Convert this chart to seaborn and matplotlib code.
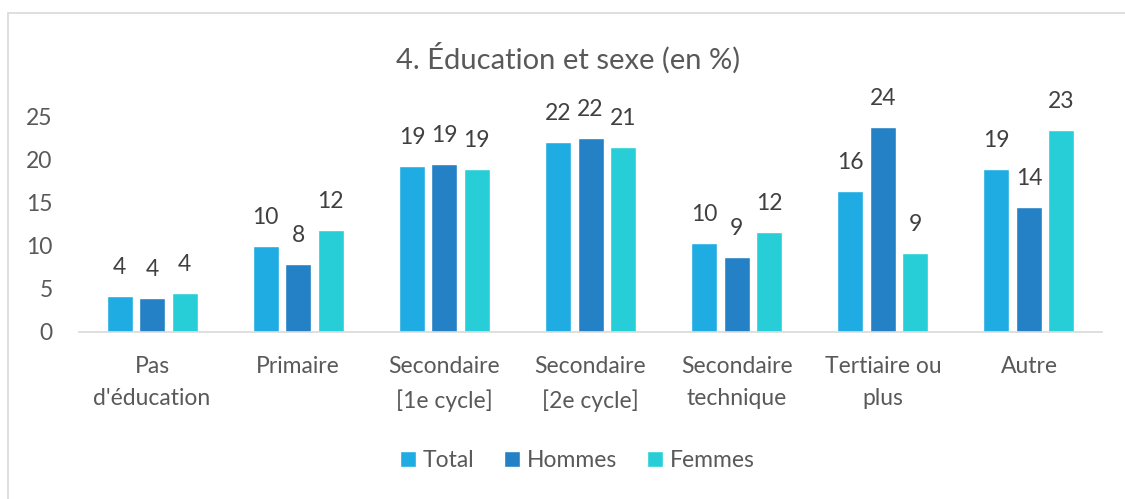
import matplotlib
matplotlib.use("Agg")
import matplotlib.pyplot as plt
import seaborn as sns
import pandas as pd
from matplotlib.patches import Rectangle

categories = ["Pas\nd'éducation", "Primaire", "Secondaire\n[1e cycle]", "Secondaire\n[2e cycle]",
              "Secondaire\ntechnique", "Tertiaire ou\nplus", "Autre"]
series = ["Total", "Hommes", "Femmes"]
total = [4.2, 9.9, 19.2, 22.0, 10.3, 16.3, 18.9]
hommes = [3.9, 7.9, 19.4, 22.5, 8.7, 23.7, 14.5]
femmes = [4.5, 11.8, 18.9, 21.4, 11.6, 9.1, 23.4]
yticks = [0, 5, 10, 15, 20, 25]
colors = ["#1FACE3", "#2581C6", "#27CED7"]

rows = []
for name, vals in zip(series, [total, hommes, femmes]):
    for c, v in zip(categories, vals):
        rows.append({"cat": c, "serie": name, "val": v})
df = pd.DataFrame(rows)

sns.set_theme(style="white")
plt.rcParams['font.family'] = ['Lato', 'DejaVu Sans']

FS = 16.5
fig = plt.figure(figsize=(11.25, 4.99), dpi=100)
ax = fig.add_axes([0.0702, 0.3347, 0.9094, 0.4328])
sns.barplot(data=df, x="cat", y="val", hue="serie", palette=colors, width=0.667, gap=0.2,
            ax=ax, saturation=1, legend=True)

for cont in ax.containers:
    ax.bar_label(cont, labels=[f"{v:.0f}" for v in cont.datavalues], padding=13,
                 fontsize=FS, color="#404040")

ax.set_ylim(0, 25)
ax.set_xlim(-0.5, len(categories) - 0.5)
ax.set_yticks(yticks)
ax.set_xlabel("")
ax.set_ylabel("")
for s in ["top", "right", "left"]:
    ax.spines[s].set_visible(False)
ax.spines["bottom"].set_color("#D9D9D9")
ax.spines["bottom"].set_linewidth(1.2)
ax.tick_params(axis="y", labelsize=FS, labelcolor="#595959", length=0, pad=19)
ax.tick_params(axis="x", labelsize=FS, labelcolor="#595959", length=0, pad=17)
for lbl in ax.get_xticklabels():
    lbl.set_linespacing(1.7)

handles, labels = ax.get_legend_handles_labels()
ax.legend_.remove()
fig.legend(handles, labels, loc="center", bbox_to_anchor=(0.513, 0.078), ncol=3, frameon=False,
           fontsize=FS, labelcolor="#595959", handlelength=0.7, handleheight=0.7,
           handletextpad=0.3, columnspacing=1.3)

fig.text(0.505, 0.884, "4. Éducation et sexe (en %)", ha="center", va="center",
         fontsize=21, color="#595959")

fig.patches.append(Rectangle((8 / 1125, -0.1), 1.2, 1.1 - 13 / 499, transform=fig.transFigure,
                             fill=False, edgecolor="#D9D9D9", linewidth=1.2))

fig.savefig("out.png", dpi=100)
